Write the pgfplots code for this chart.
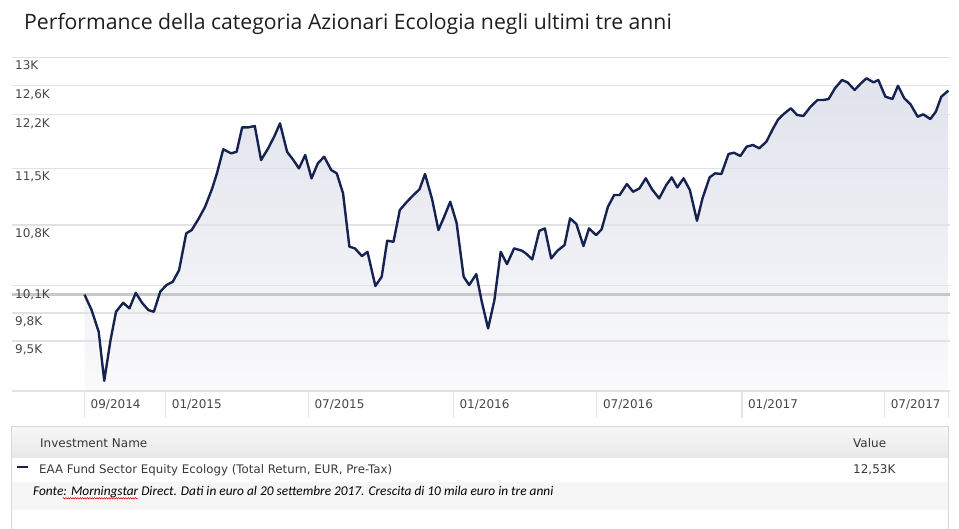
\documentclass[border=0pt]{standalone}
\usepackage{fontspec}
\setmainfont{DejaVu Sans}
\newfontfamily\titlefont{Open Sans}
\newfontfamily\notefont{Carlito}
\usepackage{pgfplots}
\usepackage{pgfplotstable}
\pgfplotsset{compat=1.18}
\usepgfplotslibrary{fillbetween}
\usetikzlibrary{decorations.pathmorphing}

\definecolor{navy}{RGB}{22,34,80}
\definecolor{gridgray}{RGB}{226,226,226}
\definecolor{basegray}{RGB}{200,200,200}
\definecolor{sepgray}{RGB}{228,228,228}
\definecolor{filltop}{RGB}{224,227,236}
\definecolor{fillbot}{RGB}{250,250,252}
\definecolor{ticktxt}{RGB}{70,70,70}
\definecolor{titlecol}{RGB}{30,30,30}
\definecolor{txt}{RGB}{55,55,55}
\definecolor{tborder}{RGB}{215,215,215}
\definecolor{headtop}{RGB}{248,248,248}
\definecolor{headbot}{RGB}{232,232,232}
\definecolor{notebg}{RGB}{246,246,246}

\pgfplotstableread{
d v
0 10000
9 9831
18 9598
25 9092
33 9510
40 9813
49 9911
57 9850
65 10020
73 9911
81 9831
88 9813
96 10032
104 10107
112 10144
120 10275
129 10701
136 10741
145 10880
153 11020
162 11247
168 11435
176 11743
186 11691
193 11711
200 12032
208 12032
216 12049
224 11604
233 11756
241 11917
248 12085
257 11711
265 11604
272 11498
280 11669
288 11372
296 11562
304 11647
313 11477
320 11435
328 11185
336 10545
343 10525
352 10436
359 10485
369 10096
377 10200
384 10615
392 10602
400 10981
408 11070
416 11152
425 11235
432 11427
441 11111
449 10741
456 10893
464 11082
472 10828
481 10200
488 10107
497 10230
504 9922
512 9634
520 9940
528 10485
536 10344
545 10525
555 10498
561 10459
568 10397
577 10732
584 10760
592 10409
600 10498
609 10564
616 10880
624 10812
633 10552
640 10760
649 10681
656 10749
664 11020
672 11165
679 11165
688 11301
696 11205
704 11247
712 11372
720 11235
729 11123
738 11288
745 11384
752 11259
760 11372
768 11226
777 10851
784 11123
793 11384
800 11435
808 11427
817 11682
824 11699
832 11656
840 11777
848 11799
856 11756
865 11842
873 12005
880 12138
887 12210
896 12288
904 12197
912 12184
921 12308
930 12401
937 12401
944 12414
952 12562
961 12678
968 12645
977 12539
985 12632
992 12702
1001 12645
1007 12678
1016 12447
1025 12414
1032 12598
1040 12424
1048 12341
1057 12173
1064 12206
1073 12143
1080 12241
1087 12447
1096 12530
}\perfdata

\begin{document}
\begin{tikzpicture}[x=1pt,y=1pt]
% title
\node[anchor=base west, inner sep=0pt, font=\titlefont\fontsize{21.2}{24}\selectfont, text=titlecol] at (12,361.7) {Performance della categoria Azionari Ecologia negli ultimi tre anni};
% table below the chart
\shade[top color=headtop, bottom color=headbot] (0,-35) rectangle (936,-66);
\fill[notebg] (0,-91) rectangle (936,-119);
\draw[tborder, line width=1pt] (0,-140) -- (0,-35) -- (936,-35) -- (936,-140);
\node[anchor=base west, inner sep=0pt, font=\fontsize{12}{14}\selectfont, text=txt] at (28,-56.3) {Investment Name};
\node[anchor=base west, inner sep=0pt, font=\fontsize{12}{14}\selectfont, text=txt] at (841,-56.3) {Value};
\draw[navy, line width=2pt] (4.7,-76.3) -- (16.3,-76.3);
\node[anchor=base west, inner sep=0pt, font=\fontsize{11.8}{14}\selectfont, text=txt] at (27,-82) {EAA Fund Sector Equity Ecology (Total Return, EUR, Pre-Tax)};
\node[anchor=base west, inner sep=0pt, font=\fontsize{12}{14}\selectfont, text=txt] at (841,-82) {12,53K};
\node[anchor=base west, inner sep=0pt, font=\notefont\itshape\fontsize{13.35}{15}\selectfont, text=black] at (21,-104.5) {Fonte: Morningstar Direct. Dati in euro al 20 settembre 2017. Crescita di 10 mila euro in tre anni};
\draw[red!85!black, line width=0.5pt, decorate, decoration={snake, amplitude=0.7pt, segment length=2.4pt}] (50.7,-107.3) -- (125.7,-107.3);

\begin{axis}[
  at={(0,0)}, anchor=south west,
  scale only axis, width=938pt, height=333.7pt,
  set layers,
  xmin=-92, xmax=1098,
  ymode=log, ymin=8990, ymax=13000,
  clip=false,
  axis line style={draw=none},
  major tick length=0pt,
  tick style={draw=none},
  xtick={0,103,284,468,650,834,1015},
  xticklabels={09/2014,01/2015,07/2015,01/2016,07/2016,01/2017,07/2017},
  ytick={9500,9800,10100,10800,11500,12200,12600,13000},
  yticklabels={{9,5K},{9,8K},{10,1K},{10,8K},{11,5K},{12,2K},{12,6K},{13K}},
  ymajorgrids,
  major grid style={draw=gridgray, line width=1.4pt},
  extra y ticks={10000},
  extra y tick labels={},
  extra y tick style={major grid style={draw=basegray, line width=2.4pt}},
  tick label style={font=\fontsize{12}{14}\selectfont, text=ticktxt, inner sep=0pt},
  yticklabel style={anchor=north west, xshift=3pt, yshift=-3.4pt},
  xticklabel style={anchor=north west, xshift=6pt, yshift=-8.3pt},
]
\addplot[name path=L, draw=none, forget plot] table[x=d,y=v] {\perfdata};
\path[name path=B] (axis cs:0,8990) -- (axis cs:1096,8990);
\addplot[fill=white, top color=filltop, bottom color=fillbot, draw=none] fill between[of=L and B, on layer=axis background];
\draw[gridgray, line width=1.4pt] (axis cs:-92,8990) -- (axis cs:1098,8990);
\pgfplotsinvokeforeach{0,103,284,468,650,834,1015,1096}{\draw[sepgray, line width=1.2pt] (axis cs:#1,8990) -- ([yshift=-27pt]axis cs:#1,8990);}
\addplot[navy, line width=2.4pt, line join=round] table[x=d,y=v] {\perfdata};
\end{axis}
\pgfresetboundingbox
\path[use as bounding box] (-12,-137) rectangle (947,391);
\end{tikzpicture}
\end{document}
